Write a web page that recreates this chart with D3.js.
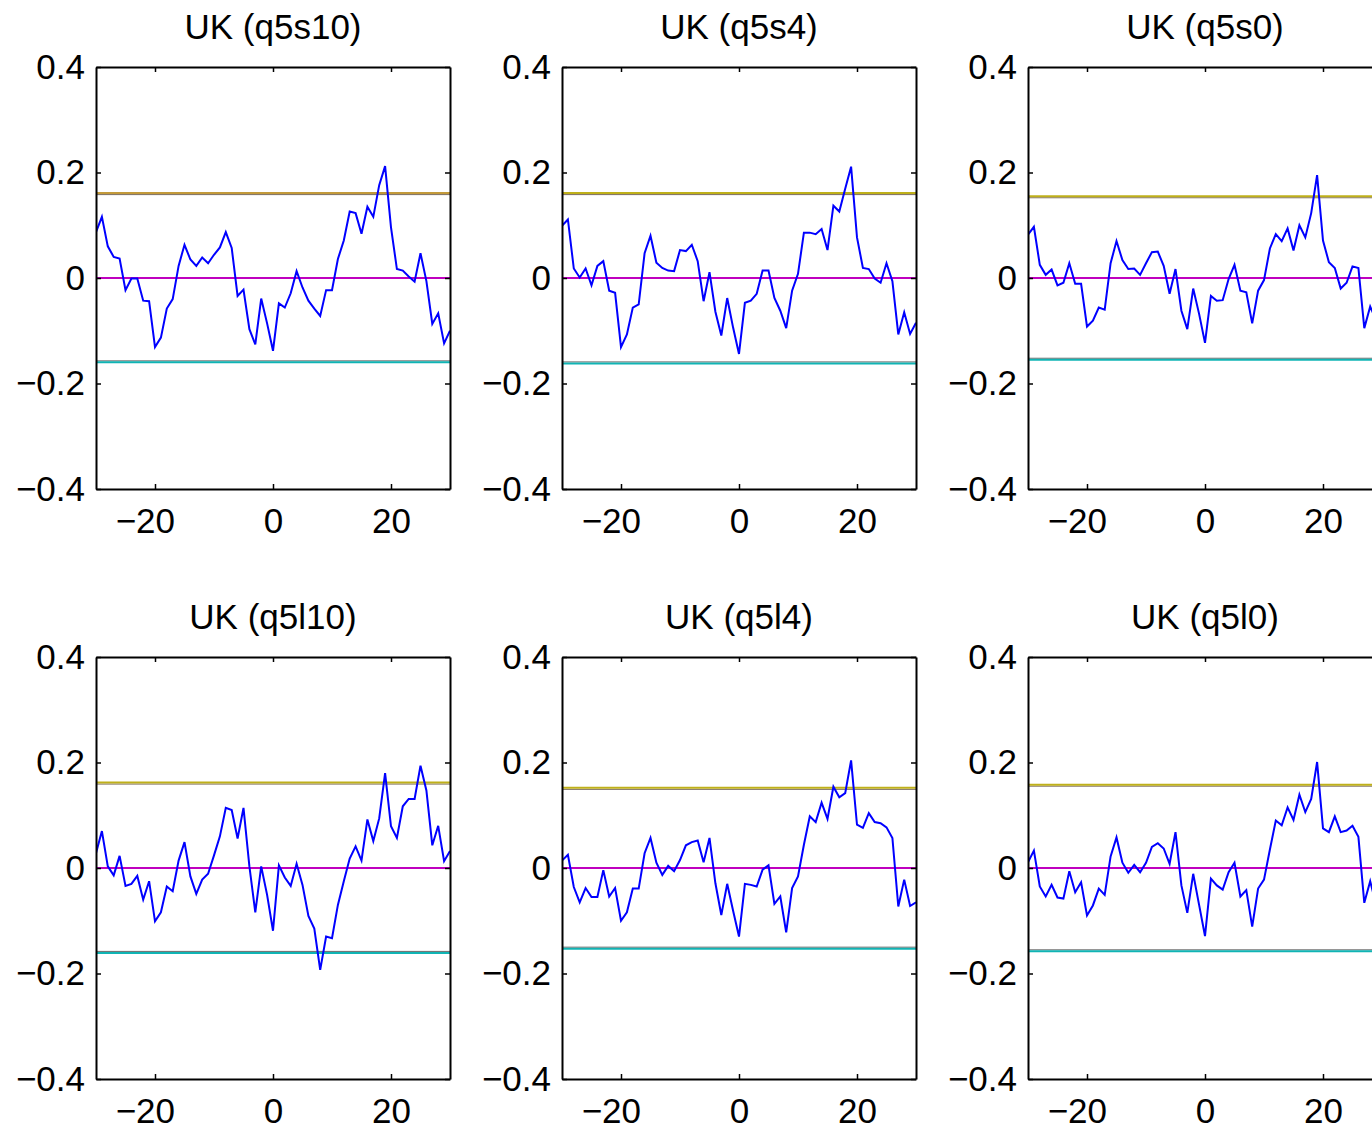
<!DOCTYPE html>
<html>
<head>
  <meta charset="utf-8">
  <title>UK cross-correlation panels</title>
  <style>
    body { margin: 0; background: #fff; }
    svg text { font-family: "Liberation Sans", Arial, Helvetica, sans-serif; }
  </style>
</head>
<body>
  <svg width="1372" height="1131"></svg>
  <script src="https://d3js.org/d3.v7.min.js"></script>
  <script>
    // panel titles
    var titles = ["UK (q5s10)", "UK (q5s4)", "UK (q5s0)", "UK (q5l10)", "UK (q5l4)", "UK (q5l0)"];

    // lags -30 .. 30
    var lags = d3.range(-30, 31);
    var xTicks = [-20, 0, 20];
    var yTicks = [-0.4, -0.2, 0, 0.2, 0.4];

    // series (one value per lag)
    var q5s10 = [0.087, 0.116, 0.060, 0.040, 0.037, -0.023, -0.001, -0.001, -0.043, -0.044,
      -0.131, -0.113, -0.058, -0.040, 0.023, 0.063, 0.035, 0.023, 0.039, 0.028,
      0.044, 0.058, 0.087, 0.057, -0.034, -0.022, -0.097, -0.126, -0.039, -0.086,
      -0.138, -0.048, -0.056, -0.029, 0.013, -0.018, -0.043, -0.058, -0.072, -0.023,
      -0.023, 0.036, 0.071, 0.126, 0.123, 0.084, 0.135, 0.116, 0.176, 0.212,
      0.096, 0.017, 0.014, 0.003, -0.007, 0.047, -0.006, -0.087, -0.067, -0.124, -0.100];
    var q5s4 = [0.099, 0.111, 0.018, 0.001, 0.018, -0.014, 0.023, 0.032, -0.024, -0.028,
      -0.131, -0.107, -0.056, -0.050, 0.047, 0.080, 0.029, 0.019, 0.014, 0.013,
      0.053, 0.051, 0.063, 0.032, -0.044, 0.011, -0.064, -0.109, -0.038, -0.094,
      -0.144, -0.047, -0.043, -0.030, 0.014, 0.014, -0.038, -0.062, -0.095, -0.024,
      0.008, 0.086, 0.086, 0.083, 0.093, 0.053, 0.137, 0.126, 0.169, 0.211,
      0.077, 0.019, 0.017, -0.001, -0.009, 0.028, -0.006, -0.107, -0.065, -0.106, -0.085];
    var q5s0 = [0.082, 0.097, 0.025, 0.006, 0.016, -0.014, -0.009, 0.028, -0.011, -0.011,
      -0.092, -0.081, -0.056, -0.060, 0.028, 0.070, 0.034, 0.017, 0.018, 0.006,
      0.028, 0.049, 0.050, 0.023, -0.030, 0.017, -0.062, -0.097, -0.020, -0.068,
      -0.123, -0.034, -0.043, -0.042, -0.002, 0.025, -0.024, -0.027, -0.086, -0.024,
      -0.004, 0.056, 0.083, 0.070, 0.094, 0.052, 0.100, 0.077, 0.123, 0.195,
      0.071, 0.030, 0.019, -0.020, -0.009, 0.022, 0.019, -0.095, -0.054, -0.080, -0.070];
    var q5l10 = [0.028, 0.070, 0.003, -0.014, 0.023, -0.034, -0.030, -0.015, -0.060, -0.025,
      -0.101, -0.084, -0.035, -0.044, 0.014, 0.049, -0.016, -0.049, -0.022, -0.011,
      0.024, 0.060, 0.114, 0.110, 0.056, 0.114, 0.003, -0.084, 0.003, -0.051,
      -0.119, 0.005, -0.018, -0.034, 0.008, -0.032, -0.091, -0.115, -0.193, -0.130,
      -0.133, -0.070, -0.025, 0.018, 0.041, 0.014, 0.092, 0.051, 0.094, 0.180,
      0.079, 0.057, 0.117, 0.131, 0.131, 0.194, 0.147, 0.043, 0.080, 0.013, 0.032];
    var q5l4 = [0.014, 0.025, -0.036, -0.065, -0.038, -0.055, -0.055, -0.004, -0.054, -0.038,
      -0.100, -0.084, -0.039, -0.039, 0.028, 0.057, 0.010, -0.013, 0.004, -0.006,
      0.015, 0.043, 0.049, 0.052, 0.011, 0.057, -0.029, -0.089, -0.030, -0.081,
      -0.130, -0.030, -0.032, -0.035, -0.003, 0.005, -0.068, -0.054, -0.122, -0.038,
      -0.016, 0.044, 0.098, 0.087, 0.124, 0.093, 0.154, 0.134, 0.142, 0.204,
      0.082, 0.076, 0.104, 0.087, 0.085, 0.077, 0.057, -0.073, -0.022, -0.072, -0.065];
    var q5l0 = [0.011, 0.033, -0.035, -0.054, -0.032, -0.056, -0.058, -0.006, -0.046, -0.027,
      -0.090, -0.071, -0.039, -0.051, 0.022, 0.058, 0.010, -0.009, 0.006, -0.008,
      0.010, 0.040, 0.047, 0.037, 0.008, 0.068, -0.033, -0.085, -0.011, -0.070,
      -0.129, -0.020, -0.033, -0.041, -0.008, 0.010, -0.054, -0.042, -0.111, -0.039,
      -0.022, 0.035, 0.090, 0.081, 0.115, 0.091, 0.139, 0.106, 0.131, 0.201,
      0.075, 0.068, 0.098, 0.068, 0.071, 0.080, 0.059, -0.066, -0.025, -0.070, -0.060];
    var series = [q5s10, q5s4, q5s0, q5l10, q5l4, q5l0];

    // confidence bounds per panel
    var upperBound = [0.160, 0.160, 0.154, 0.161, 0.151, 0.157];
    var lowerBound = [-0.159, -0.161, -0.154, -0.160, -0.152, -0.157];

    // layout
    var colLeft = [96, 562, 1028], rowTop = [67, 657];
    var W = 354, H = 422;
    var fontSize = 35;
    var upperColor = ["#c39a3a", "#bfb01a", "#bfb01a", "#bfb01a", "#bfb01a", "#bfb01a"];

    var svg = d3.select("svg");

    series.forEach(function (vals, i) {
      var x0 = colLeft[i % 3], y0 = rowTop[Math.floor(i / 3)];
      var x = d3.scaleLinear().domain([-30, 30]).range([0, W]);
      var y = d3.scaleLinear().domain([-0.4, 0.4]).range([H, 0]);

      var g = svg.append("g").attr("transform", "translate(" + x0 + "," + y0 + ")");

      g.append("clipPath").attr("id", "clip" + i)
        .append("rect").attr("width", W).attr("height", H);
      var plot = g.append("g").attr("clip-path", "url(#clip" + i + ")");

      // zero line
      plot.append("line")
        .attr("x1", 0).attr("x2", W)
        .attr("y1", y(0)).attr("y2", y(0))
        .attr("stroke", "#bf00bf").attr("stroke-width", 1.8);

      // upper bound: dark edge below, colour on top
      plot.append("line")
        .attr("x1", 0).attr("x2", W)
        .attr("y1", y(upperBound[i]) + 1).attr("y2", y(upperBound[i]) + 1)
        .attr("stroke", "#7a6a5a").attr("stroke-width", 1);
      plot.append("line")
        .attr("x1", 0).attr("x2", W)
        .attr("y1", y(upperBound[i]) - 0.5).attr("y2", y(upperBound[i]) - 0.5)
        .attr("stroke", upperColor[i]).attr("stroke-width", 2);

      // lower bound: grey edge above, cyan below
      plot.append("line")
        .attr("x1", 0).attr("x2", W)
        .attr("y1", y(lowerBound[i]) - 1).attr("y2", y(lowerBound[i]) - 1)
        .attr("stroke", "#666").attr("stroke-width", 1);
      plot.append("line")
        .attr("x1", 0).attr("x2", W)
        .attr("y1", y(lowerBound[i]) + 0.5).attr("y2", y(lowerBound[i]) + 0.5)
        .attr("stroke", "#10b4b4").attr("stroke-width", 2);

      // series
      var line = d3.line()
        .x(function (d, j) { return x(lags[j]); })
        .y(function (d) { return y(d); });
      plot.append("path")
        .datum(vals)
        .attr("d", line)
        .attr("fill", "none")
        .attr("stroke", "#0000ff")
        .attr("stroke-width", 2)
        .attr("stroke-linejoin", "miter");

      // axes, ticks inward on all sides
      var fmt = d3.format("");
      var left = g.append("g")
        .call(d3.axisLeft(y).tickValues(yTicks).tickFormat(fmt).tickSizeInner(-5).tickSizeOuter(0).tickPadding(11));
      var bottom = g.append("g").attr("transform", "translate(0," + H + ")")
        .call(d3.axisBottom(x).tickValues(xTicks).tickFormat(fmt).tickSizeInner(-5).tickSizeOuter(0).tickPadding(19));
      var top = g.append("g")
        .call(d3.axisTop(x).tickValues(xTicks).tickFormat("").tickSizeInner(-5).tickSizeOuter(0));
      var right = g.append("g").attr("transform", "translate(" + W + ",0)")
        .call(d3.axisRight(y).tickValues(yTicks).tickFormat("").tickSizeInner(-5).tickSizeOuter(0));

      [left, bottom, top, right].forEach(function (a) {
        a.attr("font-family", null).attr("font-size", null);
        a.select(".domain").attr("stroke", "#000").attr("stroke-width", 2);
        a.selectAll(".tick line").attr("stroke", "#000").attr("stroke-width", 1.5);
        a.selectAll(".tick text").attr("fill", "#000").style("font-size", fontSize + "px");
      });

      // centre the digits under the tick, let the minus sign hang to the left
      bottom.selectAll(".tick text")
        .attr("dx", function (d) { return d < 0 ? -0.29 * fontSize : 0; });

      // title
      g.append("text")
        .attr("x", W / 2).attr("y", -28)
        .attr("text-anchor", "middle")
        .style("font-size", fontSize + "px")
        .text(titles[i]);
    });
  </script>
</body>
</html>
